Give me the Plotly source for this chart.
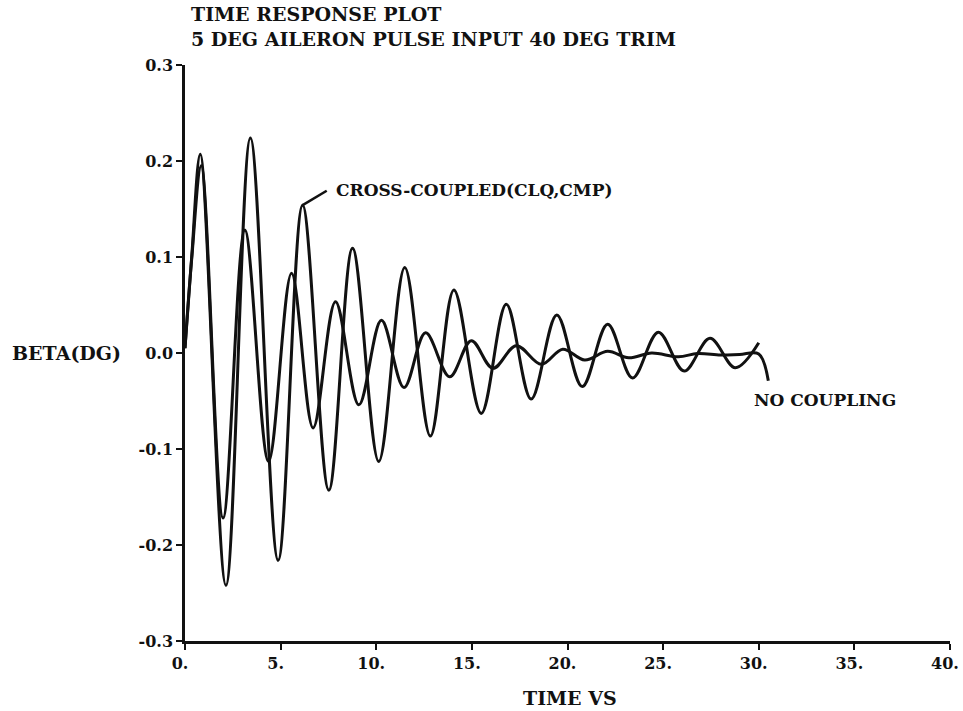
import plotly.graph_objects as go

# Sideslip response, cross-coupled case (CLQ, CMP): extrema
t_cross = [0.0, 0.35, 0.80, 2.14, 3.42, 4.87, 6.15, 7.52, 8.76, 10.13, 11.49, 12.83,
           14.06, 15.49, 16.80, 18.10, 19.44, 20.77, 22.10, 23.40, 24.75, 26.10,
           27.45, 28.77, 30.00]
beta_cross = [0.005, 0.100, 0.207, -0.242, 0.224, -0.216, 0.154, -0.143, 0.109, -0.113,
              0.089, -0.0865, 0.0657, -0.0629, 0.0507, -0.048, 0.0396, -0.035, 0.030,
              -0.026, 0.0216, -0.0188, 0.0153, -0.0153, 0.0107]

# Sideslip response, no coupling
t_nocpl = [0.0, 0.35, 0.85, 1.99, 3.13, 4.37, 5.57, 6.70, 7.87, 9.09, 10.27, 11.45,
           12.58, 13.84, 14.97, 16.10, 17.32, 18.63, 19.75, 20.90, 22.10, 23.20,
           24.40, 25.80, 26.80, 28.00, 29.00, 30.00, 30.50]
beta_nocpl = [0.005, 0.098, 0.195, -0.172, 0.128, -0.113, 0.083, -0.078, 0.0535, -0.054,
              0.034, -0.036, 0.021, -0.0247, 0.0128, -0.016, 0.0076, -0.0118, 0.004,
              -0.0073, 0.0017, -0.005, 0.000, -0.004, -0.0005, -0.002, -0.0015, -0.001,
              -0.029]

x_ticks = [0, 5, 10, 15, 20, 25, 30, 35, 40]
x_tick_text = ["0.", "5.", "10.", "15.", "20.", "25.", "30.", "35.", "40."]
y_ticks = [0.3, 0.2, 0.1, 0.0, -0.1, -0.2, -0.3]
y_tick_text = ["0.3", "0.2", "0.1", "0.0", "-0.1", "-0.2", "-0.3"]

FONT = "DejaVu Serif"
INK = "#111111"

fig = go.Figure()
for tx, by in ((t_cross, beta_cross), (t_nocpl, beta_nocpl)):
    fig.add_trace(go.Scatter(
        x=tx, y=by, mode="lines",
        line=dict(color=INK, width=3, shape="spline", smoothing=1.0),
        hoverinfo="skip", showlegend=False,
    ))

# leader from the cross-coupled peak to its label
fig.add_shape(type="line", xref="x", yref="y",
              x0=t_cross[6], y0=beta_cross[6], x1=7.41, y1=0.169,
              line=dict(color=INK, width=2.5))

fig.add_annotation(x=7.8, y=0.170, xref="x", yref="y", text="<b>CROSS-COUPLED(CLQ,CMP)</b>",
                   showarrow=False, xanchor="left", yanchor="middle",
                   font=dict(family=FONT, size=17, color=INK))
fig.add_annotation(x=29.65, y=-0.049, xref="x", yref="y", text="<b>NO COUPLING</b>",
                   showarrow=False, xanchor="left", yanchor="middle",
                   font=dict(family=FONT, size=17, color=INK))

# titles and axis captions
W, H = 963, 711
L, R, T, B = 185, 13, 65, 70
pw, ph = W - L - R, H - T - B

def px_x(px):
    return (px - L) / pw

def px_y(py):
    return (H - B - py) / ph

fig.add_annotation(x=px_x(190), y=px_y(27), xref="paper", yref="paper",
                   text="<b>TIME RESPONSE PLOT<br>5 DEG AILERON PULSE INPUT 40 DEG TRIM</b>",
                   showarrow=False, xanchor="left", yanchor="middle", align="left",
                   borderpad=0, font=dict(family=FONT, size=19, color=INK))

fig.add_annotation(x=px_x(10), y=px_y(353), xref="paper", yref="paper",
                   text="<b>BETA(DG)</b>", showarrow=False,
                   xanchor="left", yanchor="middle",
                   font=dict(family=FONT, size=19, color=INK))
fig.add_annotation(x=px_x(570), y=px_y(698), xref="paper", yref="paper",
                   text="<b>TIME VS</b>", showarrow=False,
                   xanchor="center", yanchor="middle",
                   font=dict(family=FONT, size=19, color=INK))

axis_common = dict(
    showline=True, linecolor=INK, linewidth=2.5, mirror=False,
    showgrid=False, zeroline=False, automargin=False,
    ticks="outside", ticklen=6, tickwidth=2, tickcolor=INK,
    tickfont=dict(family=FONT, size=16, color=INK),
)

fig.update_layout(
    width=W, height=H,
    margin=dict(l=L, r=R, t=T, b=B),
    paper_bgcolor="white", plot_bgcolor="white",
    font=dict(family=FONT, color=INK),
    xaxis=dict(range=[0, 40], tickmode="array", tickvals=x_ticks,
               ticktext=[f"<b>{s}</b>" for s in x_tick_text],
               ticklabelshift=-5, ticklabeloverflow="allow", **axis_common),
    yaxis=dict(range=[-0.3, 0.3], tickmode="array", tickvals=y_ticks,
               ticktext=[f"<b>{s}</b>" for s in y_tick_text], **axis_common),
)

fig.write_html("out.html")
